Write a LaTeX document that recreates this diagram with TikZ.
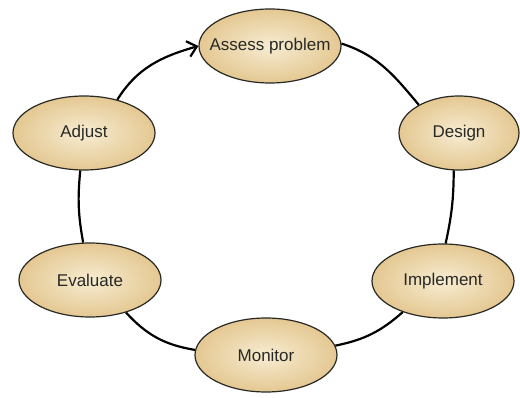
\documentclass[tikz,border=0pt]{standalone}
\usepackage{fontspec}
\setmainfont{Liberation Sans}
\usetikzlibrary{shapes.geometric,arrows.meta}
\definecolor{c0}{RGB}{247,236,210}
\definecolor{c1}{RGB}{228,200,146}
\definecolor{c2}{RGB}{40,40,36}
\tikzset{%
  phase/.style={ellipse,draw=c2,line width=1.2pt,inner color=c0,outer color=c1,
    minimum width=142pt,minimum height=74pt,inner xsep=-20pt,inner ysep=0pt,
    font=\fontsize{17}{20}\selectfont,text=c2},
  link/.style={line width=2.2pt,draw=black}
}

\begin{document}
\begin{tikzpicture}[x=1pt,y=1pt]
  % Frame
  \useasboundingbox (0,0) rectangle (520,397);
  % Phases
  \node[phase] (assess) at (270,351) {Assess problem};
  \node[phase,minimum width=120pt] (design) at (459,264) {Design};
  \node[phase] (implement) at (443,116) {Implement};
  \node[phase] (monitor) at (266,42) {Monitor};
  \node[phase] (evaluate) at (90,117) {Evaluate};
  \node[phase] (adjust) at (84,264) {Adjust};
  % Cycle
  \draw[link,-{Straight Barb[length=9pt,width=16pt]}] (adjust.45) to[out=58,in=196] (assess.180);
  \draw[link] (assess.2) to[out=-18,in=130] (design.145);
  \draw[link] (design.-98) to[bend left=6] (implement.86);
  \draw[link] (implement) to[bend left=15] (monitor);
  \draw[link] (monitor) to[bend left=19] (evaluate);
  \draw[link] (evaluate) to[bend left=8] (adjust);
\end{tikzpicture}
\end{document}
